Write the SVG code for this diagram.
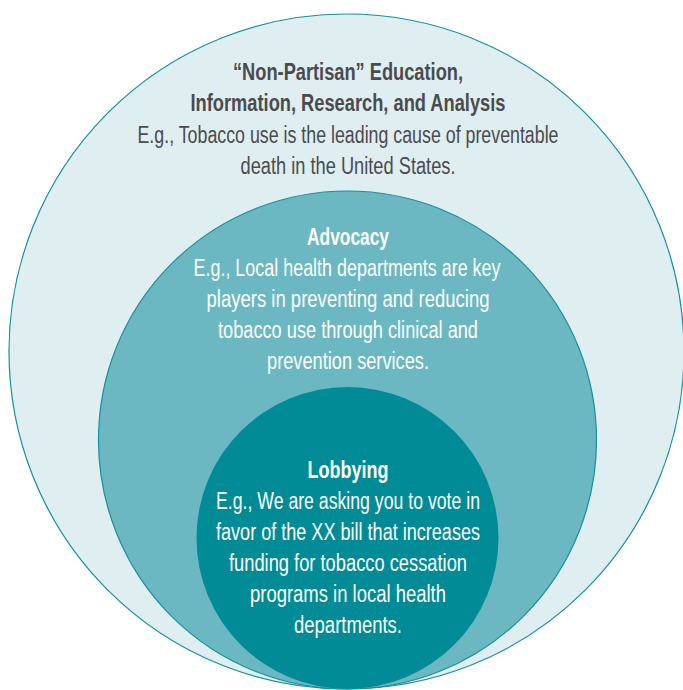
<svg xmlns="http://www.w3.org/2000/svg" width="683" height="690" viewBox="0 0 683 690">
  <style>
    .t { font-family: "Liberation Sans Narrow", "Liberation Sans", Arial, sans-serif; font-size: 23px; text-anchor: middle; }
    .b { font-weight: bold; }
    .dark { fill: #4b4b4d; }
    .light { fill: #ffffff; }
    .ring-outer { fill: #dfeef1; stroke: #17909b; stroke-width: 1.2; }
    .ring-mid { fill: #6bb8c2; stroke: #17909b; stroke-width: 1.2; }
    .ring-inner { fill: #008b96; stroke: none; }
  </style>
  <rect width="683" height="690" fill="#ffffff"/>

  <!-- Outer level: non-partisan education and research -->
  <g id="education">
    <circle class="ring-outer" cx="346.5" cy="351.5" r="337.5"/>
    <text class="t b dark" x="348" y="80" textLength="230" lengthAdjust="spacingAndGlyphs">“Non-Partisan” Education,</text>
    <text class="t b dark" x="348" y="111" textLength="315" lengthAdjust="spacingAndGlyphs">Information, Research, and Analysis</text>
    <text class="t dark" x="348" y="143" textLength="421" lengthAdjust="spacingAndGlyphs">E.g., Tobacco use is the leading cause of preventable</text>
    <text class="t dark" x="348" y="174" textLength="215" lengthAdjust="spacingAndGlyphs">death in the United States.</text>
  </g>

  <!-- Middle level: advocacy -->
  <g id="advocacy">
    <circle class="ring-mid" cx="347.5" cy="440" r="249"/>
    <text class="t b light" x="348" y="245" textLength="82" lengthAdjust="spacingAndGlyphs">Advocacy</text>
    <text class="t light" x="347" y="276" textLength="307" lengthAdjust="spacingAndGlyphs">E.g., Local health departments are key</text>
    <text class="t light" x="348" y="307" textLength="283" lengthAdjust="spacingAndGlyphs">players in preventing and reducing</text>
    <text class="t light" x="348" y="338" textLength="260" lengthAdjust="spacingAndGlyphs">tobacco use through clinical and</text>
    <text class="t light" x="348" y="369" textLength="162" lengthAdjust="spacingAndGlyphs">prevention services.</text>
  </g>

  <!-- Inner level: lobbying -->
  <g id="lobbying">
    <circle class="ring-inner" cx="347.5" cy="538" r="151"/>
    <text class="t b light" x="348" y="478" textLength="81" lengthAdjust="spacingAndGlyphs">Lobbying</text>
    <text class="t light" x="348" y="509" textLength="264" lengthAdjust="spacingAndGlyphs">E.g., We are asking you to vote in</text>
    <text class="t light" x="348" y="540" textLength="264" lengthAdjust="spacingAndGlyphs">favor of the XX bill that increases</text>
    <text class="t light" x="348" y="571" textLength="238" lengthAdjust="spacingAndGlyphs">funding for tobacco cessation</text>
    <text class="t light" x="348" y="602" textLength="196" lengthAdjust="spacingAndGlyphs">programs in local health</text>
    <text class="t light" x="348" y="633" textLength="108" lengthAdjust="spacingAndGlyphs">departments.</text>
  </g>

  <g id="connectors"/>
</svg>
